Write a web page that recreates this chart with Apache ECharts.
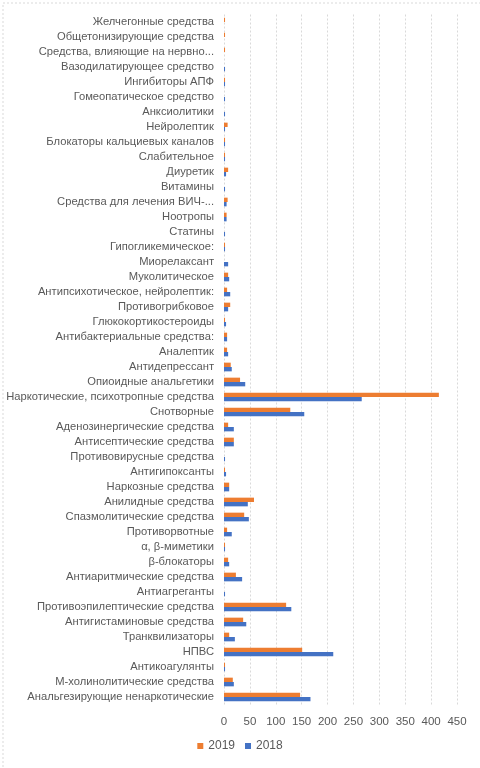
<!DOCTYPE html>
<html>
<head>
<meta charset="utf-8">
<script src="https://cdn.jsdelivr.net/npm/echarts@6/dist/echarts.min.js"></script>
<style>
html,body{margin:0;padding:0;background:#fff;}
#c{width:480px;height:768px;}
</style>
</head>
<body>
<div id="c"></div>
<script>
// categories listed bottom-to-top (ECharts category y axis starts at bottom)
var categories = [
  "Анальгезирующие ненаркотические",
  "М-холинолитические средства",
  "Антикоагулянты",
  "НПВС",
  "Транквилизаторы",
  "Антигистаминовые средства",
  "Противоэпилептические средства",
  "Антиагреганты",
  "Антиаритмические средства",
  "β-блокаторы",
  "α, β-миметики",
  "Противорвотные",
  "Спазмолитические средства",
  "Анилидные средства",
  "Наркозные средства",
  "Антигипоксанты",
  "Противовирусные средства",
  "Антисептические средства",
  "Аденозинергические средства",
  "Снотворные",
  "Наркотические, психотропные средства",
  "Опиоидные анальгетики",
  "Антидепрессант",
  "Аналептик",
  "Антибактериальные средства:",
  "Глюкокортикостероиды",
  "Противогрибковое",
  "Антипсихотическое, нейролептик:",
  "Муколитическое",
  "Миорелаксант",
  "Гипогликемическое:",
  "Статины",
  "Ноотропы",
  "Средства для лечения ВИЧ-...",
  "Витамины",
  "Диуретик",
  "Слабительное",
  "Блокаторы кальциевых каналов",
  "Нейролептик",
  "Анксиолитики",
  "Гомеопатическое средство",
  "Ингибиторы АПФ",
  "Вазодилатирующее средство",
  "Средства, влияющие на нервно...",
  "Общетонизирующие средства",
  "Желчегонные средства"
];
var values2019 = [147,17,2,151,10,37,120,0,23,8,2,6,39,58,10,2,0,19,8,128,415,31,13,6,6,2,12,6,8,0,2,0,5,7,0,8,2,2,7,0,0,2,0,2,2,2];
var values2018 = [167,19,2,211,21,43,130,2,35,10,2,15,48,46,10,4,2,19,19,155,266,41,15,8,6,4,8,12,10,8,2,2,5,5,2,4,2,2,2,2,2,2,2,0,0,0];
var xTicks = {min:0, max:450, interval:50};
var seriesNames = ["2019","2018"];

var chart = echarts.init(document.getElementById('c'), null, {renderer:'canvas'});
var font = 'Liberation Sans';
chart.setOption({
  animation:false,
  backgroundColor:'#ffffff',
  textStyle:{fontFamily:font},
  graphic:[{
    type:'rect', left:0.5, top:0.5,
    shape:{x:0,y:0,width:478,height:766},
    style:{fill:'none', stroke:'#d9d9d9', lineWidth:1, lineDash:[2,2]},
    silent:true, z:-1
  }],
  legend:{
    data:seriesNames,
    bottom:11, left:'center',
    itemWidth:6, itemHeight:6, itemGap:10,
    icon:'rect',
    textStyle:{color:'#595959', fontSize:12, fontFamily:font}
  },
  grid:{left:224, right:23, top:14.5, bottom:63.5, containLabel:false},
  xAxis:{
    type:'value', min:xTicks.min, max:xTicks.max, interval:xTicks.interval,
    axisLine:{show:false}, axisTick:{show:false},
    axisLabel:{color:'#595959', fontSize:11.5, margin:11, fontFamily:font},
    splitLine:{show:true, lineStyle:{color:'#d9d9d9', type:[2,2], width:1}}
  },
  yAxis:{
    type:'category', data:categories,
    axisLine:{show:false}, axisTick:{show:false},
    axisLabel:{color:'#595959', fontSize:11.2, margin:10, interval:0, fontFamily:font}
  },
  series:[
    {name:seriesNames[0], type:'bar', data:values2019, itemStyle:{color:'#ed7d31'}, barGap:'0%', barCategoryGap:'42%'},
    {name:seriesNames[1], type:'bar', data:values2018, itemStyle:{color:'#4472c4'}, barGap:'0%', barCategoryGap:'42%'}
  ]
});
</script>
</body>
</html>
